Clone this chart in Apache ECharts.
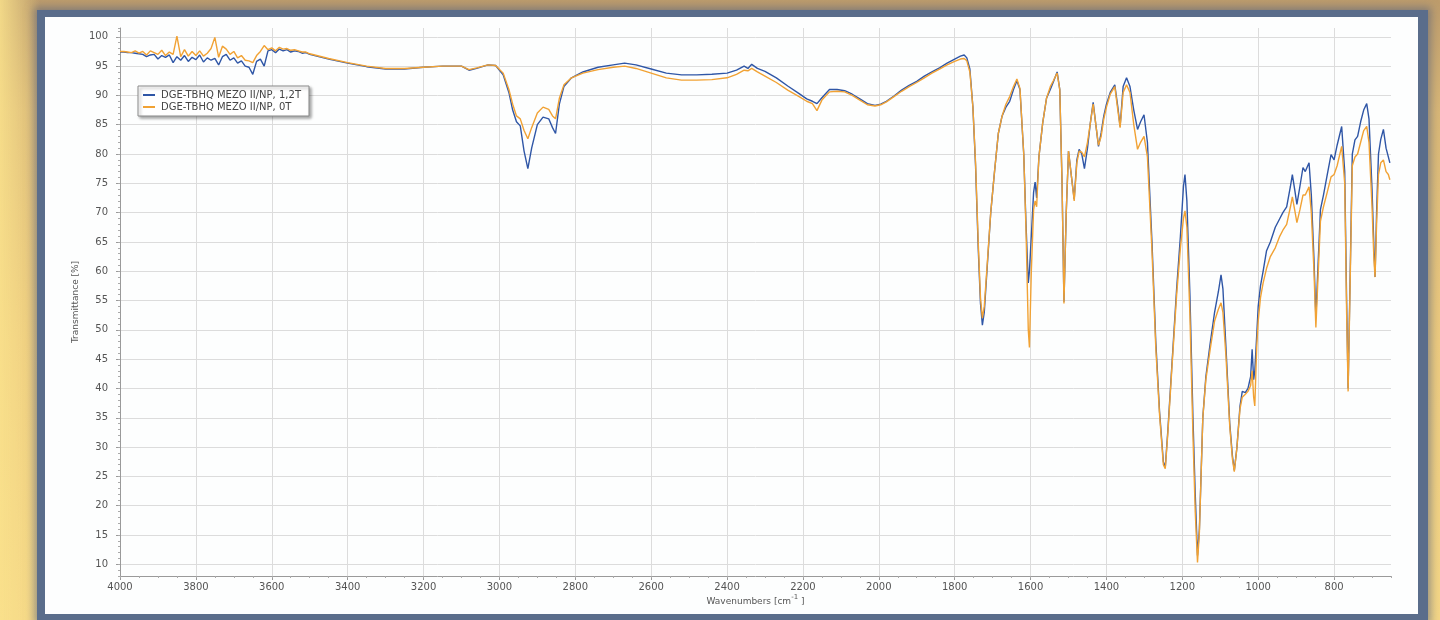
<!DOCTYPE html>
<html>
<head>
<meta charset="utf-8">
<script src="https://cdn.jsdelivr.net/npm/echarts@6/dist/echarts.min.js"></script>
<style>
  html, body { margin: 0; padding: 0; width: 1440px; height: 620px; overflow: hidden; }
  body {
    background:
      linear-gradient(to right, rgba(250, 226, 140, 0.85) 0px, rgba(250, 226, 140, 0) 40px),
      linear-gradient(to bottom, #bd9c6c 0%, #d8b676 18%, #ecca7e 55%, #f4d686 100%);
  }
  #frame {
    position: absolute; left: 37px; top: 10px; width: 1391px; height: 612px;
    background: #5a6d8b;
    box-shadow: 0 0 8px 3px rgba(80, 95, 125, 0.55);
  }
  #panel {
    position: absolute; left: 45px; top: 17px; width: 1373px; height: 597px;
    background: #fdfefe;
  }
  #chart { position: absolute; left: 0; top: 0; width: 1440px; height: 620px; }
</style>
</head>
<body>
<div id="frame"></div>
<div id="panel"></div>
<div id="chart"></div>
<script>
// FTIR spectra: wavenumber [cm-1] and transmittance [%] for the two samples
const wavenumbers = [
  4000, 3990, 3980, 3970, 3960, 3950, 3940, 3930, 3920, 3910,
  3900, 3890, 3880, 3870, 3860, 3850, 3840, 3830, 3820, 3810,
  3800, 3790, 3780, 3770, 3760, 3750, 3740, 3730, 3720, 3710,
  3700, 3690, 3680, 3670, 3660, 3650, 3640, 3630, 3620, 3610,
  3600, 3590, 3580, 3570, 3560, 3550, 3540, 3530, 3520, 3510,
  3500,
  3450, 3400, 3350, 3300, 3250, 3200, 3150, 3100, 3080, 3060,
  3030, 3010, 2990, 2975, 2965, 2955, 2945, 2935, 2925, 2915,
  2900, 2885, 2870, 2860, 2852, 2842, 2830, 2810, 2780, 2740,
  2700, 2670, 2640, 2600, 2560, 2520, 2480, 2440, 2400, 2375,
  2355, 2345, 2335, 2320, 2300, 2270, 2240, 2210, 2190, 2175,
  2163, 2150, 2130, 2110, 2090, 2070, 2050, 2030, 2010, 1995,
  1980, 1960, 1940, 1920, 1900, 1880, 1860, 1840, 1820, 1800,
  1785, 1775, 1768, 1760, 1752, 1745, 1738, 1732, 1727, 1722,
  1715, 1705, 1695, 1685, 1675, 1665, 1655, 1645, 1636, 1628,
  1618, 1612, 1606, 1603, 1598, 1592, 1588, 1584, 1578, 1568,
  1558, 1548, 1540, 1530, 1523, 1517, 1512, 1506, 1500, 1492,
  1485, 1478, 1472, 1465, 1458, 1450, 1443, 1435, 1428, 1421,
  1414, 1407, 1400, 1390, 1378, 1370, 1364, 1356, 1347, 1338,
  1328, 1318, 1310, 1301, 1292, 1280, 1270, 1260, 1250, 1245,
  1238, 1228, 1215, 1205, 1197, 1193, 1188, 1180, 1172, 1166,
  1160, 1155, 1146, 1138, 1127, 1115, 1105, 1098, 1093, 1085,
  1075, 1068, 1063, 1056, 1048, 1042, 1034, 1027, 1020, 1016,
  1012, 1009, 1004, 1000, 994, 987, 978, 968, 955, 943,
  935, 925, 915, 910, 904, 898, 890, 882, 876, 866,
  860, 853, 848, 843, 836, 828, 818, 808, 800, 792,
  780, 772, 767, 763, 758, 752, 745, 738, 730, 722,
  714, 708, 700, 695, 692, 688, 683, 677, 670, 663,
  657, 653
];

const transmittance12T = [
  97.4, 97.4, 97.3, 97.3, 97.2, 97.1, 97.0, 96.6, 96.9, 97.0,
  96.2, 96.8, 96.5, 96.9, 95.6, 96.6, 96.0, 96.8, 95.8, 96.5,
  96.1, 96.9, 95.7, 96.4, 96.0, 96.3, 95.2, 96.6, 97.0, 96.0,
  96.4, 95.5, 95.9, 95.0, 94.8, 93.6, 95.8, 96.2, 95.0, 97.6,
  97.8, 97.3, 97.9, 97.6, 97.8, 97.4, 97.6, 97.5, 97.2, 97.3,
  97.0,
  96.2, 95.5, 94.9, 94.5, 94.5, 94.8, 95.0, 95.0, 94.3, 94.6,
  95.2, 95.1, 93.5, 90.5, 87.5, 85.5, 84.8, 80.5, 77.5, 81.0,
  85.0, 86.3, 86.0, 84.5, 83.5, 88.5, 91.5, 93.0, 94.0, 94.8,
  95.2, 95.5, 95.2, 94.5, 93.8, 93.5, 93.5, 93.6, 93.8, 94.3,
  95.0, 94.6, 95.3, 94.6, 94.1, 93.0, 91.6, 90.3, 89.4, 89.0,
  88.6, 89.6, 91.0, 91.0, 90.8, 90.2, 89.4, 88.6, 88.3, 88.5,
  89.0, 89.9, 90.9, 91.7, 92.4, 93.3, 94.0, 94.7, 95.5, 96.2,
  96.7, 96.9, 96.4, 94.5, 88.0, 78.0, 64.0, 54.5, 50.8, 53.0,
  60.0, 70.0, 77.0, 83.5, 86.5, 88.0, 89.0, 91.0, 92.5, 91.0,
  80.0, 68.0, 58.0, 60.0, 66.0, 73.5, 75.2, 72.5, 79.5, 85.3,
  89.5, 91.0, 92.3, 94.0, 91.0, 75.0, 54.8, 70.0, 80.5, 76.0,
  72.3, 79.0, 80.8, 80.0, 77.5, 81.0, 85.0, 88.8, 85.0, 81.3,
  83.6, 86.5, 88.5, 90.5, 91.8, 88.0, 84.7, 91.5, 93.0, 91.5,
  87.5, 84.2, 85.5, 86.7, 82.0, 65.0, 48.0, 36.0, 27.5, 26.5,
  33.0, 43.5, 57.0, 66.0, 74.5, 76.5, 72.0, 56.0, 35.0, 22.0,
  11.5, 16.0, 35.0, 42.0, 47.5, 53.0, 56.5, 59.4, 57.0, 47.0,
  34.0, 28.5, 26.0, 30.0, 37.0, 39.5, 39.3, 40.0, 42.0, 46.7,
  41.5, 43.0, 49.0, 54.0, 57.5, 60.0, 63.5, 65.0, 67.5, 69.0,
  70.0, 71.0, 74.5, 76.5, 74.0, 71.4, 74.5, 77.7, 77.0, 78.5,
  73.0, 62.0, 52.0, 60.0, 70.5, 73.0, 76.5, 79.9, 79.0, 81.5,
  84.7, 77.0, 55.0, 40.0, 58.0, 80.0, 82.4, 83.0, 85.5, 87.5,
  88.6, 86.0, 74.0, 64.0, 59.0, 70.0, 80.0, 82.5, 84.2, 81.0,
  79.5, 78.5
];

const transmittance0T = [
  97.5, 97.5, 97.4, 97.3, 97.6, 97.2, 97.5, 96.9, 97.6, 97.3,
  97.0, 97.7, 96.8, 97.4, 97.0, 100.1, 96.6, 97.8, 96.7, 97.5,
  96.8, 97.6, 96.7, 97.2, 98.0, 99.9, 96.5, 98.4, 97.9, 97.0,
  97.5, 96.4, 96.8, 96.0, 95.9, 95.6, 96.8, 97.5, 98.5, 97.8,
  98.1, 97.6, 98.2, 97.9, 98.0, 97.7, 97.8, 97.6, 97.4, 97.4,
  97.1,
  96.3, 95.6, 95.0, 94.6, 94.6, 94.8, 95.0, 95.0, 94.4, 94.7,
  95.2, 95.1, 93.8, 91.0, 88.5, 86.5, 86.0, 84.0, 82.6, 84.5,
  87.0, 88.0, 87.6, 86.5, 86.0, 89.5, 91.8, 93.0, 93.8, 94.4,
  94.8, 95.0, 94.6, 93.8, 93.0, 92.6, 92.6, 92.7, 93.0, 93.6,
  94.3, 94.2, 94.6, 94.0, 93.3, 92.2, 90.9, 89.8, 89.0, 88.6,
  87.4, 89.2, 90.6, 90.7, 90.6, 90.0, 89.2, 88.4, 88.2, 88.4,
  88.9, 89.8, 90.7, 91.5, 92.2, 93.0, 93.8, 94.5, 95.2, 95.8,
  96.2, 96.3, 95.9, 94.0, 88.0, 78.5, 65.0, 55.5, 52.0, 54.0,
  60.5, 70.0, 77.0, 83.5, 86.5, 88.5, 89.8, 91.5, 92.8, 91.2,
  80.0, 67.0, 50.0, 47.0, 60.0, 70.5, 72.0, 71.0, 79.5, 85.3,
  89.5, 91.5, 92.5, 93.8, 91.0, 75.0, 54.5, 70.0, 80.5, 76.0,
  72.0, 78.5, 80.5, 80.3, 79.5, 82.0, 85.0, 88.5, 85.0, 81.5,
  83.0, 86.0, 88.0, 90.2, 91.5, 87.5, 84.5, 90.5, 91.8, 90.5,
  85.0, 80.8, 82.0, 83.0, 79.5, 63.5, 47.0, 35.5, 27.0, 26.3,
  32.5, 43.0, 56.0, 64.0, 69.0, 70.3, 67.5, 52.5, 32.0, 19.0,
  10.3, 15.5, 35.0, 41.5, 46.5, 51.5, 53.5, 54.6, 53.0, 45.5,
  33.5, 28.0, 25.8, 30.0, 36.5, 38.5, 39.0, 39.5, 40.5, 43.0,
  38.5, 37.0, 47.0, 51.5, 55.5, 58.0, 60.5, 62.5, 64.0, 66.0,
  67.0, 68.0, 71.0, 72.7, 70.5, 68.3, 70.5, 73.0, 73.0, 74.4,
  70.0, 60.0, 50.4, 58.0, 68.5, 71.0, 73.5, 76.1, 76.5, 78.0,
  81.3, 75.0, 53.0, 39.5, 57.0, 78.0, 79.5, 80.0, 82.0, 84.0,
  84.7, 82.0, 71.0, 62.0, 59.0, 68.0, 76.5, 78.5, 79.0, 77.0,
  76.5, 75.6
];

const seriesNames = ['DGE-TBHQ MEZO II/NP, 1,2T', 'DGE-TBHQ MEZO II/NP, 0T'];
const xTickValues = [4000, 3800, 3600, 3400, 3200, 3000, 2800, 2600, 2400, 2200, 2000, 1800, 1600, 1400, 1200, 1000, 800];
const yTickValues = [10, 15, 20, 25, 30, 35, 40, 45, 50, 55, 60, 65, 70, 75, 80, 85, 90, 95, 100];

const blueColor = '#2f56a6';
const orangeColor = '#f1a234';
const labelFont = { fontFamily: 'DejaVu Sans', fontSize: 10, color: '#555' };
const plainNumber = (v) => String(v);

function pairs(values) {
  return wavenumbers.map((w, i) => [w, values[i]]);
}

const chart = echarts.init(document.getElementById('chart'), null, { renderer: 'canvas' });

const gridBox = { left: 120, right: 49, top: 28, bottom: 44 };
const xRange = { min: 650, max: 4000 };
const yRange = { min: 8, max: 101.5 };

chart.setOption({
  animation: false,
  backgroundColor: 'transparent',
  grid: gridBox,
  legend: {
    left: 138, top: 86,
    orient: 'vertical',
    itemGap: 2,
    itemWidth: 12, itemHeight: 2,
    icon: 'rect',
    padding: [4, 8, 4, 5],
    backgroundColor: '#ffffff',
    borderColor: '#8a8a8a',
    borderWidth: 1,
    shadowColor: 'rgba(0,0,0,0.35)',
    shadowBlur: 3,
    shadowOffsetX: 2,
    shadowOffsetY: 2,
    textStyle: { fontFamily: 'DejaVu Sans', fontSize: 10, color: '#444', padding: [0, 0, 0, 1] },
    data: seriesNames
  },
  xAxis: [
    {
      type: 'value', inverse: true, min: xRange.min, max: xRange.max,
      name: '{t|Wavenumbers [cm}{s|-1}{t| ]}',
      nameLocation: 'middle', nameGap: 18, nameMoveOverlap: false,
      nameTextStyle: {
        rich: {
          t: { fontFamily: 'DejaVu Sans', fontSize: 9, color: '#555' },
          s: { fontFamily: 'DejaVu Sans', fontSize: 7, color: '#555', verticalAlign: 'top', padding: [0, 0, 8, 0] }
        }
      },
      axisLine: { show: true, onZero: false, lineStyle: { color: '#9a9a9a' } },
      axisTick: { show: true, customValues: xTickValues, length: 4, lineStyle: { color: '#9a9a9a' } },
      axisLabel: Object.assign({ customValues: xTickValues, margin: 6, formatter: plainNumber }, labelFont),
      splitLine: { show: true, lineStyle: { color: '#dcdcdc', width: 1 } }
    },
    {
      // fine tick marks every 50 cm-1
      type: 'value', inverse: true, min: xRange.min, max: xRange.max, interval: 50,
      position: 'bottom',
      axisLine: { show: false },
      axisTick: { show: true, length: 2, lineStyle: { color: '#aaa' } },
      axisLabel: { show: false },
      splitLine: { show: false }
    }
  ],
  yAxis: [
    {
      type: 'value', min: yRange.min, max: yRange.max,
      name: 'Transmittance [%]',
      nameLocation: 'middle', nameGap: 40, nameMoveOverlap: false,
      nameTextStyle: { fontFamily: 'DejaVu Sans', fontSize: 9, color: '#555' },
      axisLine: { show: true, lineStyle: { color: '#9a9a9a' } },
      axisTick: { show: true, customValues: yTickValues, length: 4, lineStyle: { color: '#9a9a9a' } },
      axisLabel: Object.assign({ customValues: yTickValues, margin: 12, formatter: plainNumber }, labelFont),
      splitLine: { show: true, lineStyle: { color: '#dcdcdc', width: 1 } }
    },
    {
      // fine tick marks every 1 %
      type: 'value', min: yRange.min, max: yRange.max, interval: 1,
      position: 'left',
      axisLine: { show: false },
      axisTick: { show: true, length: 2, lineStyle: { color: '#aaa' } },
      axisLabel: { show: false },
      splitLine: { show: false }
    }
  ],
  series: [
    {
      name: seriesNames[0], type: 'line', data: pairs(transmittance12T),
      showSymbol: false, symbol: 'none', z: 2,
      lineStyle: { color: blueColor, width: 1.4 },
      itemStyle: { color: blueColor }
    },
    {
      name: seriesNames[1], type: 'line', data: pairs(transmittance0T),
      showSymbol: false, symbol: 'none', z: 3,
      lineStyle: { color: orangeColor, width: 1.4 },
      itemStyle: { color: orangeColor }
    }
  ]
});
</script>
</body>
</html>
